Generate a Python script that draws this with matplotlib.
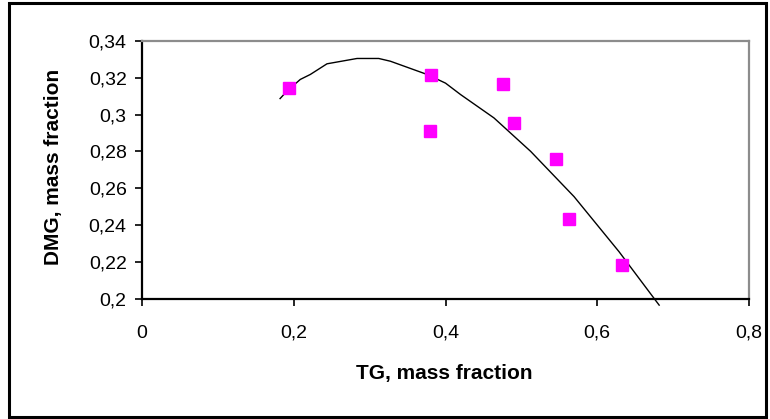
import matplotlib
matplotlib.use("Agg")
import matplotlib.pyplot as plt
from matplotlib.ticker import FuncFormatter, MultipleLocator
from matplotlib.patches import Rectangle

# Measured data points (TG vs DMG, mass fractions)
tg_points = [0.194, 0.381, 0.379, 0.476, 0.490, 0.545, 0.563, 0.632]
dmg_points = [0.3146, 0.3213, 0.2909, 0.3168, 0.2952, 0.2756, 0.2430, 0.2182]

# Fitted curve
tg_curve = [0.182, 0.191, 0.2086, 0.2218, 0.2438, 0.2834, 0.312, 0.3274,
            0.3758, 0.400, 0.4198, 0.4638, 0.5122, 0.5694, 0.6288, 0.675, 0.6816]
dmg_curve = [0.3087, 0.3127, 0.3191, 0.3218, 0.3276, 0.3305, 0.3305, 0.3290,
             0.3218, 0.3171, 0.3109, 0.2982, 0.2800, 0.2554, 0.2254, 0.2000, 0.1964]

x_label = "TG, mass fraction"
y_label = "DMG, mass fraction"

plt.rcParams['font.family'] = ['Liberation Sans', 'DejaVu Sans']

W, H = 770, 419
fig = plt.figure(figsize=(W / 100, H / 100), dpi=100)

# outer frame
fig.patches.append(Rectangle((9 / W, 2 / H), (766 - 9) / W, (416 - 2) / H,
                             transform=fig.transFigure, fill=False,
                             edgecolor='black', linewidth=2.2, zorder=0))

left, right, top, bottom = 142, 749, 41, 298.5
ax = fig.add_axes([left / W, (H - bottom) / H, (right - left) / W, (bottom - top) / H])

ax.plot(tg_curve, dmg_curve, color='black', linewidth=1.0, clip_on=False, zorder=2)
ax.plot(tg_points, dmg_points, linestyle='none', marker='s', markersize=8.5,
        markerfacecolor='#FF00FF', markeredgecolor='#FF00FF', zorder=3, clip_on=False)

ax.set_xlim(0, 0.8)
ax.set_ylim(0.2, 0.34)
ax.xaxis.set_major_locator(MultipleLocator(0.2))
ax.yaxis.set_major_locator(MultipleLocator(0.02))
fmt = FuncFormatter(lambda v, p: f"{round(v, 2):g}".replace('.', ','))
ax.xaxis.set_major_formatter(fmt)
ax.yaxis.set_major_formatter(fmt)

for s in ['left', 'bottom']:
    ax.spines[s].set_color('black')
    ax.spines[s].set_linewidth(1.6)
for s in ['top', 'right']:
    ax.spines[s].set_color('#8c8c8c')
    ax.spines[s].set_linewidth(1.6)

ax.tick_params(axis='both', direction='out', length=5, width=1.2, colors='black',
               labelsize=14)
ax.tick_params(axis='x', pad=14)
ax.tick_params(axis='y', pad=6)

fig.text(444 / W, 1 - 373 / H, x_label, ha='center', va='center',
         fontsize=15, fontweight='bold')
fig.text(54 / W, 1 - 167 / H, y_label, ha='center', va='center',
         fontsize=15, fontweight='bold', rotation=90)

fig.savefig('out.png', dpi=100)
